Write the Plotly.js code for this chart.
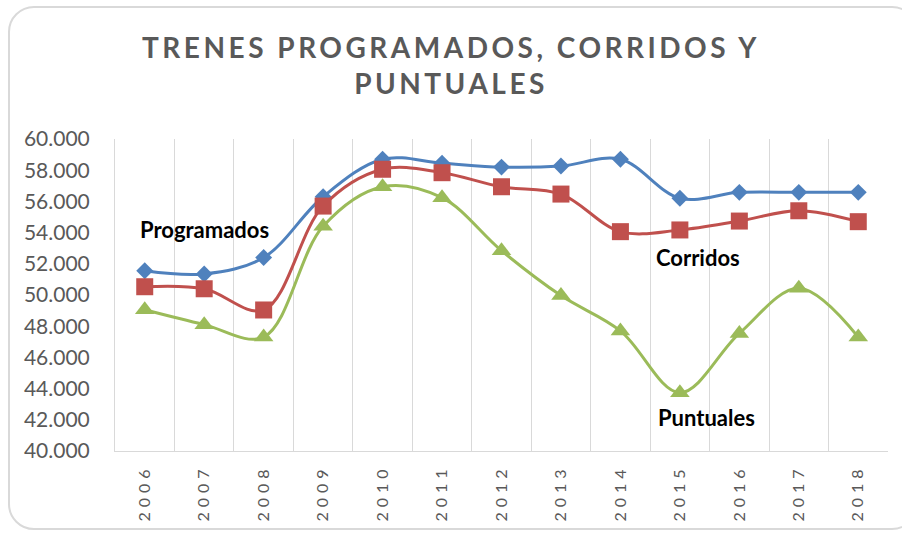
<!DOCTYPE html>
<html>
<head>
<meta charset="utf-8">
<script src="https://cdn.plot.ly/plotly-3.0.1.min.js"></script>
<style>
  html, body { margin: 0; padding: 0; background: #ffffff; overflow: hidden; }
  #wrap { position: relative; width: 902px; height: 535px; }
  #frame { position: absolute; left: 8px; top: 6px; width: 910px; height: 524px;
           border: 2px solid #d9d9d9; border-radius: 26px; box-sizing: border-box; pointer-events: none; }
  #chart { position: absolute; left: 0; top: 0; width: 902px; height: 535px; }
  .gtitle { letter-spacing: 3.5px; }
  .xtick text { letter-spacing: 5px; }
</style>
</head>
<body>
<div id="wrap">
  <div id="chart"></div>
  <div id="frame"></div>
</div>
<script>
const years = ["2006","2007","2008","2009","2010","2011","2012","2013","2014","2015","2016","2017","2018"];
const programados = [51550, 51350, 52400, 56300, 58700, 58450, 58200, 58270, 58700, 56200, 56580, 56580, 56580];
const corridos    = [50530, 50400, 49040, 55700, 58060, 57840, 56940, 56470, 54060, 54170, 54740, 55400, 54700];
const puntuales   = [49050, 48100, 47300, 54400, 56940, 56240, 52840, 49960, 47700, 43740, 47540, 50430, 47300];
const yTicks = [40000, 42000, 44000, 46000, 48000, 50000, 52000, 54000, 56000, 58000, 60000];

const traces = [
  { name: 'Programados', x: years, y: programados, type: 'scatter', mode: 'lines+markers', hoverinfo: 'skip',
    line: { shape: 'spline', smoothing: 1, width: 3, color: '#4F81BD' },
    marker: { symbol: 'diamond', size: 13, color: '#4F81BD' } },
  { name: 'Corridos', x: years, y: corridos, type: 'scatter', mode: 'lines+markers', hoverinfo: 'skip',
    line: { shape: 'spline', smoothing: 1, width: 3, color: '#C0504D' },
    marker: { symbol: 'square', size: 17, color: '#C0504D' } },
  { name: 'Puntuales', x: years, y: puntuales, type: 'scatter', mode: 'lines+markers', hoverinfo: 'skip',
    line: { shape: 'spline', smoothing: 1, width: 3, color: '#9BBB59' },
    marker: { symbol: 'triangle-up', size: 17, color: '#9BBB59' } }
];

const annFont = { family: 'Lato, "Open Sans", sans-serif', size: 22, color: '#000000', weight: 'bold' };

const layout = {
  width: 902, height: 535,
  margin: { l: 115, r: 14, t: 139, b: 84 },
  paper_bgcolor: 'rgba(0,0,0,0)', plot_bgcolor: 'rgba(0,0,0,0)',
  separators: ',.',
  showlegend: false,
  title: { text: 'TRENES PROGRAMADOS, CORRIDOS Y<br>PUNTUALES',
           font: { family: 'Lato, sans-serif', size: 28, color: '#595959', weight: 'bold' },
           x: 0.5, xanchor: 'center', yref: 'container', y: 0.892, yanchor: 'top' },
  xaxis: { type: 'category', range: [-0.5, 12.5], tickson: 'boundaries', ticks: '',
           showgrid: true, gridcolor: '#d9d9d9', gridwidth: 1,
           showline: true, linecolor: '#d9d9d9', linewidth: 1,
           tickangle: -90, ticklabelstandoff: 6,
           tickfont: { family: 'Lato, "Open Sans", sans-serif', size: 16, color: '#595959' },
           zeroline: false },
  yaxis: { range: [40000, 60000], tickvals: yTicks, tickformat: ',d',
           showgrid: false, zeroline: false, ticks: '',
           showline: true, linecolor: '#d9d9d9', linewidth: 1,
           ticklabelstandoff: 20,
           tickfont: { family: 'Lato, "Open Sans", sans-serif', size: 21, color: '#595959' } },
  annotations: [
    { xref: 'x', yref: 'y', x: 1, y: 54200, text: 'Programados', showarrow: false, font: annFont, xanchor: 'center' },
    { xref: 'x', yref: 'y', x: 9.3, y: 52400, text: 'Corridos', showarrow: false, font: annFont, xanchor: 'center' },
    { xref: 'x', yref: 'y', x: 9.45, y: 42150, text: 'Puntuales', showarrow: false, font: annFont, xanchor: 'center' }
  ]
};

Plotly.newPlot('chart', traces, layout, { staticPlot: true, displayModeBar: false });
</script>
</body>
</html>
